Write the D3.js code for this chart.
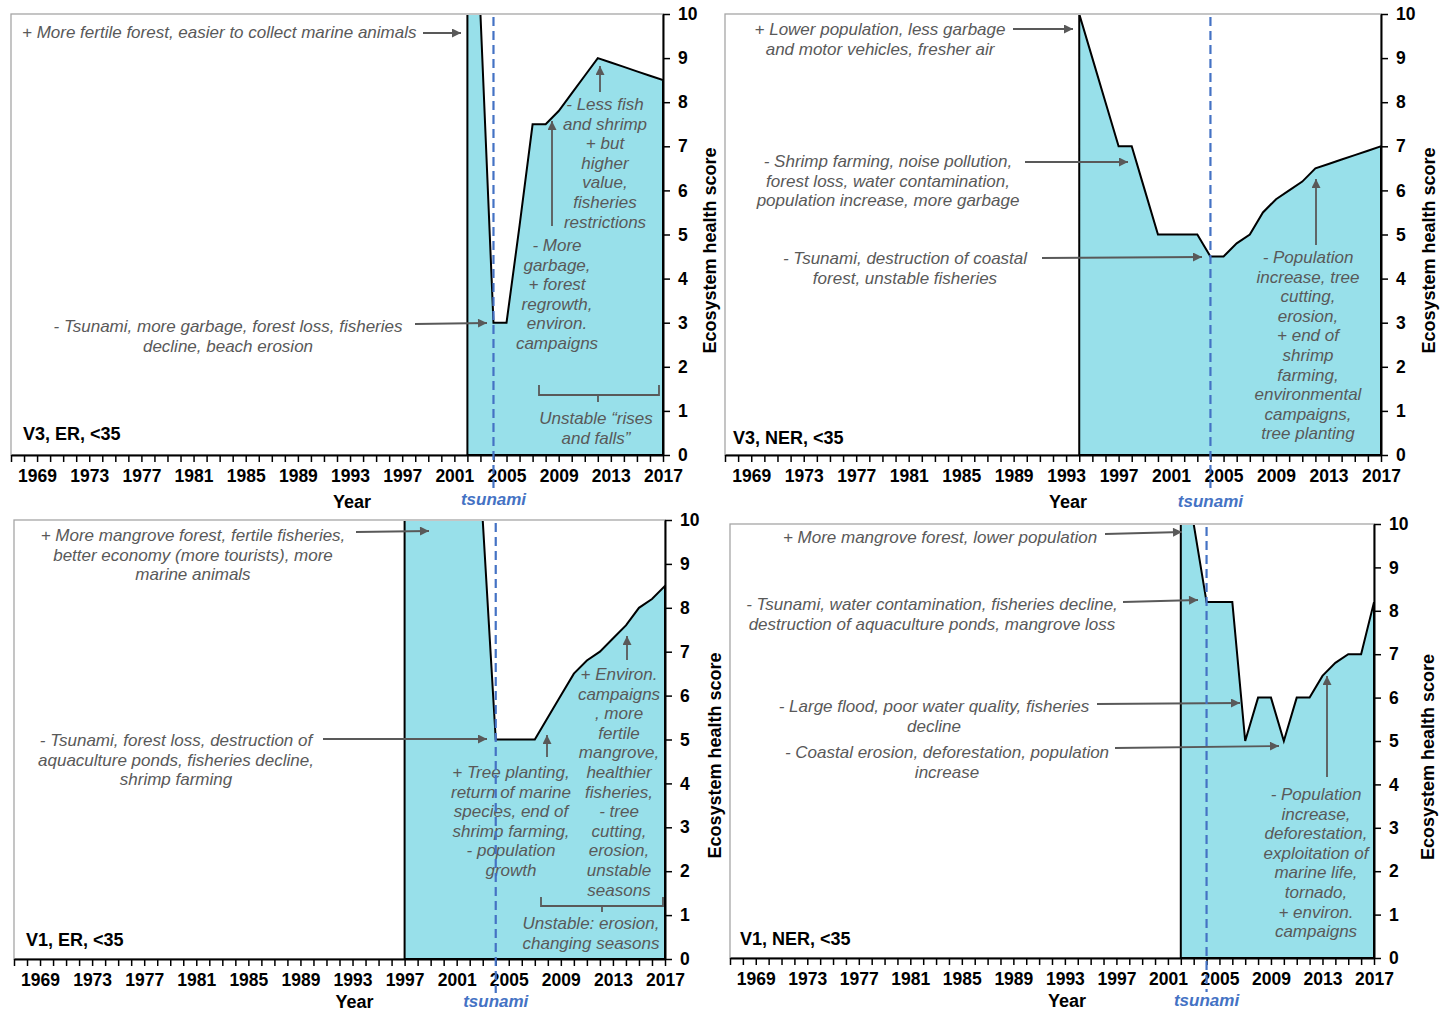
<!DOCTYPE html>
<html>
<head>
<meta charset="utf-8">
<script src="https://cdn.jsdelivr.net/npm/d3@7"></script>
<style>
  html, body { margin: 0; padding: 0; background: #fff; }
  svg text { font-family: "Liberation Sans", Arial, sans-serif; }
</style>
</head>
<body>
<svg id="chart" width="1440" height="1012"></svg>
<script>
// ---------------- data ----------------
const yearsV3ER = [2002, 2003, 2004, 2005, 2006, 2007, 2008, 2009, 2010, 2011, 2012, 2013, 2014, 2015, 2016, 2017];
const scoreV3ER = [10, 10, 3, 3, 5.2, 7.5, 7.5, 7.8, 8.2, 8.6, 9, 8.9, 8.8, 8.7, 8.6, 8.5];

const yearsV3NER = [1994, 1995, 1996, 1997, 1998, 1999, 2000, 2001, 2002, 2003, 2004, 2005, 2006, 2007, 2008, 2009, 2010, 2011, 2012, 2013, 2014, 2015, 2016, 2017];
const scoreV3NER = [10, 9, 8, 7, 7, 6, 5, 5, 5, 5, 4.5, 4.5, 4.8, 5.0, 5.5, 5.8, 6.0, 6.2, 6.5, 6.6, 6.7, 6.8, 6.9, 7.0];

const yearsV1ER = [1997, 1998, 1999, 2000, 2001, 2002, 2003, 2004, 2005, 2006, 2007, 2008, 2009, 2010, 2011, 2012, 2013, 2014, 2015, 2016, 2017];
const scoreV1ER = [10, 10, 10, 10, 10, 10, 10, 5, 5, 5, 5, 5.5, 6.0, 6.5, 6.8, 7.0, 7.3, 7.6, 8.0, 8.2, 8.5];

const yearsV1NER = [2002, 2003, 2004, 2005, 2006, 2007, 2008, 2009, 2010, 2011, 2012, 2013, 2014, 2015, 2016, 2017];
const scoreV1NER = [10, 10, 8.2, 8.2, 8.2, 5, 6, 6, 5, 6, 6, 6.5, 6.8, 7, 7, 8.2];

const xDomain = [1967, 2017];
const xLabelYears = [1969, 1973, 1977, 1981, 1985, 1989, 1993, 1997, 2001, 2005, 2009, 2013, 2017];
const yTickValues = [0, 1, 2, 3, 4, 5, 6, 7, 8, 9, 10];
const tsunamiYear = 2004;
const panelTitles = ["V3, ER, <35", "V3, NER, <35", "V1, ER, <35", "V1, NER, <35"];

// ---------------- layout ----------------
const panels = [
  { title: panelTitles[0], years: yearsV3ER, values: scoreV3ER, x0: 11, x1: 663, yTop: 14, yBot: 455, titleX: 23, titleY: 440, yearDy: 53, tsuDy: 50, yLabDx: 47 },
  { title: panelTitles[1], years: yearsV3NER, values: scoreV3NER, x0: 725, x1: 1381, yTop: 14, yBot: 455, titleX: 733, titleY: 444, yearDy: 53, tsuDy: 52, yLabDx: 48 },
  { title: panelTitles[2], years: yearsV1ER, values: scoreV1ER, x0: 14, x1: 665, yTop: 520, yBot: 959, titleX: 26, titleY: 946, yearDy: 49, tsuDy: 48, yLabDx: 50 },
  { title: panelTitles[3], years: yearsV1NER, values: scoreV1NER, x0: 730, x1: 1374, yTop: 524, yBot: 958, titleX: 740, titleY: 945, yearDy: 49, tsuDy: 48, yLabDx: 54 }
];

const annotations = [
  // panel 1
  [
    { lines: ["+ More fertile forest, easier to collect marine animals"], x: 22, y: 38, anchor: "start", arrow: [423, 33, 461, 33] },
    { lines: ["- Tsunami, more garbage, forest loss, fisheries", "decline, beach erosion"], x: 228, y: 332, arrow: [415, 324, 487, 323] },
    { lines: ["- Less fish", "and shrimp", "+ but", "higher", "value,", "fisheries", "restrictions"], x: 605, y: 110, arrow: [600, 92, 600, 66] },
    { lines: ["- More", "garbage,", "+ forest", "regrowth,", "environ.", "campaigns"], x: 557, y: 251, arrow: [552, 226, 552, 121] },
    { lines: ["Unstable \u201crises", "and falls\u201d"], x: 596, y: 424, bracket: [539, 659, 395, 385, 598, 402] }
  ],
  // panel 2
  [
    { lines: ["+ Lower population, less garbage", "and motor vehicles, fresher air"], x: 880, y: 35, arrow: [1013, 29, 1073, 29] },
    { lines: ["- Shrimp farming, noise pollution,", "forest loss, water contamination,", "population increase, more garbage"], x: 888, y: 167, arrow: [1025, 162, 1128, 162] },
    { lines: ["- Tsunami, destruction of coastal", "forest, unstable fisheries"], x: 905, y: 264, arrow: [1042, 258, 1202, 257] },
    { lines: ["- Population", "increase, tree", "cutting,", "erosion,", "+ end of", "shrimp", "farming,", "environmental", "campaigns,", "tree planting"], x: 1308, y: 263, arrow: [1316, 245, 1316, 179] }
  ],
  // panel 3
  [
    { lines: ["+ More mangrove forest, fertile fisheries,", "better economy (more tourists), more", "marine animals"], x: 193, y: 541, arrow: [356, 532, 429, 531] },
    { lines: ["- Tsunami, forest loss, destruction of", "aquaculture ponds, fisheries decline,", "shrimp farming"], x: 176, y: 746, arrow: [323, 739, 487, 739] },
    { lines: ["+ Tree planting,", "return of marine", "species,  end of", "shrimp farming,", "- population", "growth"], x: 511, y: 778, arrow: [547, 757, 547, 735] },
    { lines: ["+ Environ.", "campaigns", ", more", "fertile", "mangrove,", "healthier", "fisheries,", "- tree", "cutting,", "erosion,", "unstable", "seasons"], x: 619, y: 680, arrow: [627, 660, 627, 636] },
    { lines: ["Unstable: erosion,", "changing seasons"], x: 591, y: 929, bracket: [541, 663, 906, 897, 602, 912] }
  ],
  // panel 4
  [
    { lines: ["+ More mangrove forest, lower population"], x: 940, y: 543, arrow: [1105, 534, 1182, 532] },
    { lines: ["- Tsunami, water contamination, fisheries decline,", "destruction of aquaculture ponds, mangrove loss"], x: 932, y: 610, arrow: [1123, 602, 1198, 600] },
    { lines: ["- Large flood, poor water quality, fisheries", "decline"], x: 934, y: 712, arrow: [1097, 704, 1240, 703] },
    { lines: ["- Coastal erosion, deforestation, population", "increase"], x: 947, y: 758, arrow: [1115, 748, 1279, 746] },
    { lines: ["- Population", "increase,", "deforestation,", "exploitation of", "marine life,", "tornado,", "+ environ.", "campaigns"], x: 1316, y: 800, arrow: [1327, 777, 1327, 676] }
  ]
];

// ---------------- drawing ----------------
const svg = d3.select("#chart");
const FILL = "#98e0ea";
const ANNO = "#595959";
const BLUE = "#4472c4";

const defs = svg.append("defs");
defs.append("marker")
  .attr("id", "arrowHead")
  .attr("viewBox", "0 0 10 10")
  .attr("refX", 10).attr("refY", 5)
  .attr("markerWidth", 10).attr("markerHeight", 9)
  .attr("markerUnits", "userSpaceOnUse")
  .attr("orient", "auto")
  .append("path").attr("d", "M0,0 L10,5 L0,10 Z").attr("fill", ANNO);

panels.forEach((p, i) => {
  const g = svg.append("g");
  const x = d3.scaleLinear().domain(xDomain).range([p.x0, p.x1]);
  const y = d3.scaleLinear().domain([0, 10]).range([p.yBot, p.yTop]);

  defs.append("clipPath").attr("id", "clip" + i)
    .append("rect")
    .attr("x", p.x0).attr("y", p.yTop + 1)
    .attr("width", p.x1 - p.x0).attr("height", p.yBot - p.yTop - 1);

  // plot frame (light gray)
  g.append("rect")
    .attr("x", p.x0).attr("y", p.yTop)
    .attr("width", p.x1 - p.x0).attr("height", p.yBot - p.yTop)
    .attr("fill", "none").attr("stroke", "#a6a6a6").attr("stroke-width", 1.3);

  // area
  const data = p.years.map((yr, k) => ({ year: yr, v: p.values[k] }));
  const area = d3.area().x(d => x(d.year)).y0(y(0)).y1(d => y(d.v));
  g.append("path")
    .datum(data)
    .attr("clip-path", "url(#clip" + i + ")")
    .attr("d", area(data) + "Z")
    .attr("fill", FILL)
    .attr("stroke", "#000").attr("stroke-width", 2).attr("stroke-linejoin", "miter");

  // x axis
  const allYears = d3.range(xDomain[0], xDomain[1] + 1);
  const xAxis = d3.axisBottom(x)
    .tickValues(allYears)
    .tickSize(7)
    .tickSizeOuter(0)
    .tickFormat(d => xLabelYears.includes(d) ? String(d) : "");
  const xg = g.append("g").attr("transform", `translate(0,${p.yBot})`).call(xAxis);
  xg.select(".domain").attr("stroke", "#000").attr("stroke-width", 2);
  xg.selectAll(".tick line").attr("stroke", "#000").attr("stroke-width", 1.5);
  xg.selectAll(".tick text")
    .attr("y", 15)
    .attr("dy", "0.71em")
    .attr("font-size", 17.5).attr("font-weight", "bold").attr("fill", "#000")
    .style("font-family", "'Liberation Sans', Arial, sans-serif");

  // y axis
  const yAxis = d3.axisRight(y).tickValues(yTickValues).tickSize(7).tickSizeOuter(0).tickFormat(d3.format("d"));
  const yg = g.append("g").attr("transform", `translate(${p.x1},0)`).call(yAxis);
  yg.select(".domain").attr("stroke", "#000").attr("stroke-width", 2);
  yg.selectAll(".tick line").attr("stroke", "#000").attr("stroke-width", 1.5);
  yg.selectAll(".tick text")
    .attr("x", 15)
    .attr("font-size", 17.5).attr("font-weight", "bold").attr("fill", "#000")
    .style("font-family", "'Liberation Sans', Arial, sans-serif");

  // y-axis title
  const yMid = (p.yTop + p.yBot) / 2;
  g.append("text")
    .attr("transform", `translate(${p.x1 + p.yLabDx},${yMid + 16}) rotate(-90)`)
    .attr("text-anchor", "middle")
    .attr("dominant-baseline", "central")
    .attr("font-size", 18).attr("font-weight", "bold").attr("fill", "#000")
    .text("Ecosystem health score");

  // x-axis title
  g.append("text")
    .attr("x", (p.x0 + p.x1) / 2 + 15)
    .attr("y", p.yBot + p.yearDy)
    .attr("text-anchor", "middle")
    .attr("font-size", 18).attr("font-weight", "bold").attr("fill", "#000")
    .text("Year");

  // panel title
  g.append("text")
    .attr("x", p.titleX).attr("y", p.titleY)
    .attr("font-size", 18).attr("font-weight", "bold").attr("fill", "#000")
    .text(p.title);

  // annotations
  annotations[i].forEach(a => {
    const t = g.append("text")
      .attr("x", a.x).attr("y", a.y)
      .attr("text-anchor", a.anchor || "middle")
      .attr("font-size", 17).attr("font-style", "italic").attr("fill", ANNO);
    a.lines.forEach((ln, k) => {
      t.append("tspan").attr("x", a.x).attr("y", a.y + k * 19.6).text(ln);
    });
    if (a.arrow) {
      g.append("line")
        .attr("x1", a.arrow[0]).attr("y1", a.arrow[1])
        .attr("x2", a.arrow[2]).attr("y2", a.arrow[3])
        .attr("stroke", ANNO).attr("stroke-width", 1.8)
        .attr("marker-end", "url(#arrowHead)");
    }
    if (a.bracket) {
      const [bx0, bx1, by, byEnd, bcx, bcy] = a.bracket;
      g.append("path")
        .attr("d", `M${bx0},${byEnd} L${bx0},${by} L${bx1},${by} L${bx1},${byEnd} M${bcx},${by} L${bcx},${bcy}`)
        .attr("fill", "none").attr("stroke", ANNO).attr("stroke-width", 1.8);
    }
  });

  // tsunami line
  const tx = x(tsunamiYear);
  g.append("line")
    .attr("x1", tx).attr("x2", tx)
    .attr("y1", p.yTop + 3).attr("y2", p.yBot + p.tsuDy - 14)
    .attr("stroke", BLUE).attr("stroke-width", 2.2)
    .attr("stroke-dasharray", "9,5");
  g.append("text")
    .attr("x", tx).attr("y", p.yBot + p.tsuDy)
    .attr("text-anchor", "middle")
    .attr("font-size", 17).attr("font-weight", "bold").attr("font-style", "italic")
    .attr("fill", BLUE)
    .text("tsunami");
});
</script>
</body>
</html>
